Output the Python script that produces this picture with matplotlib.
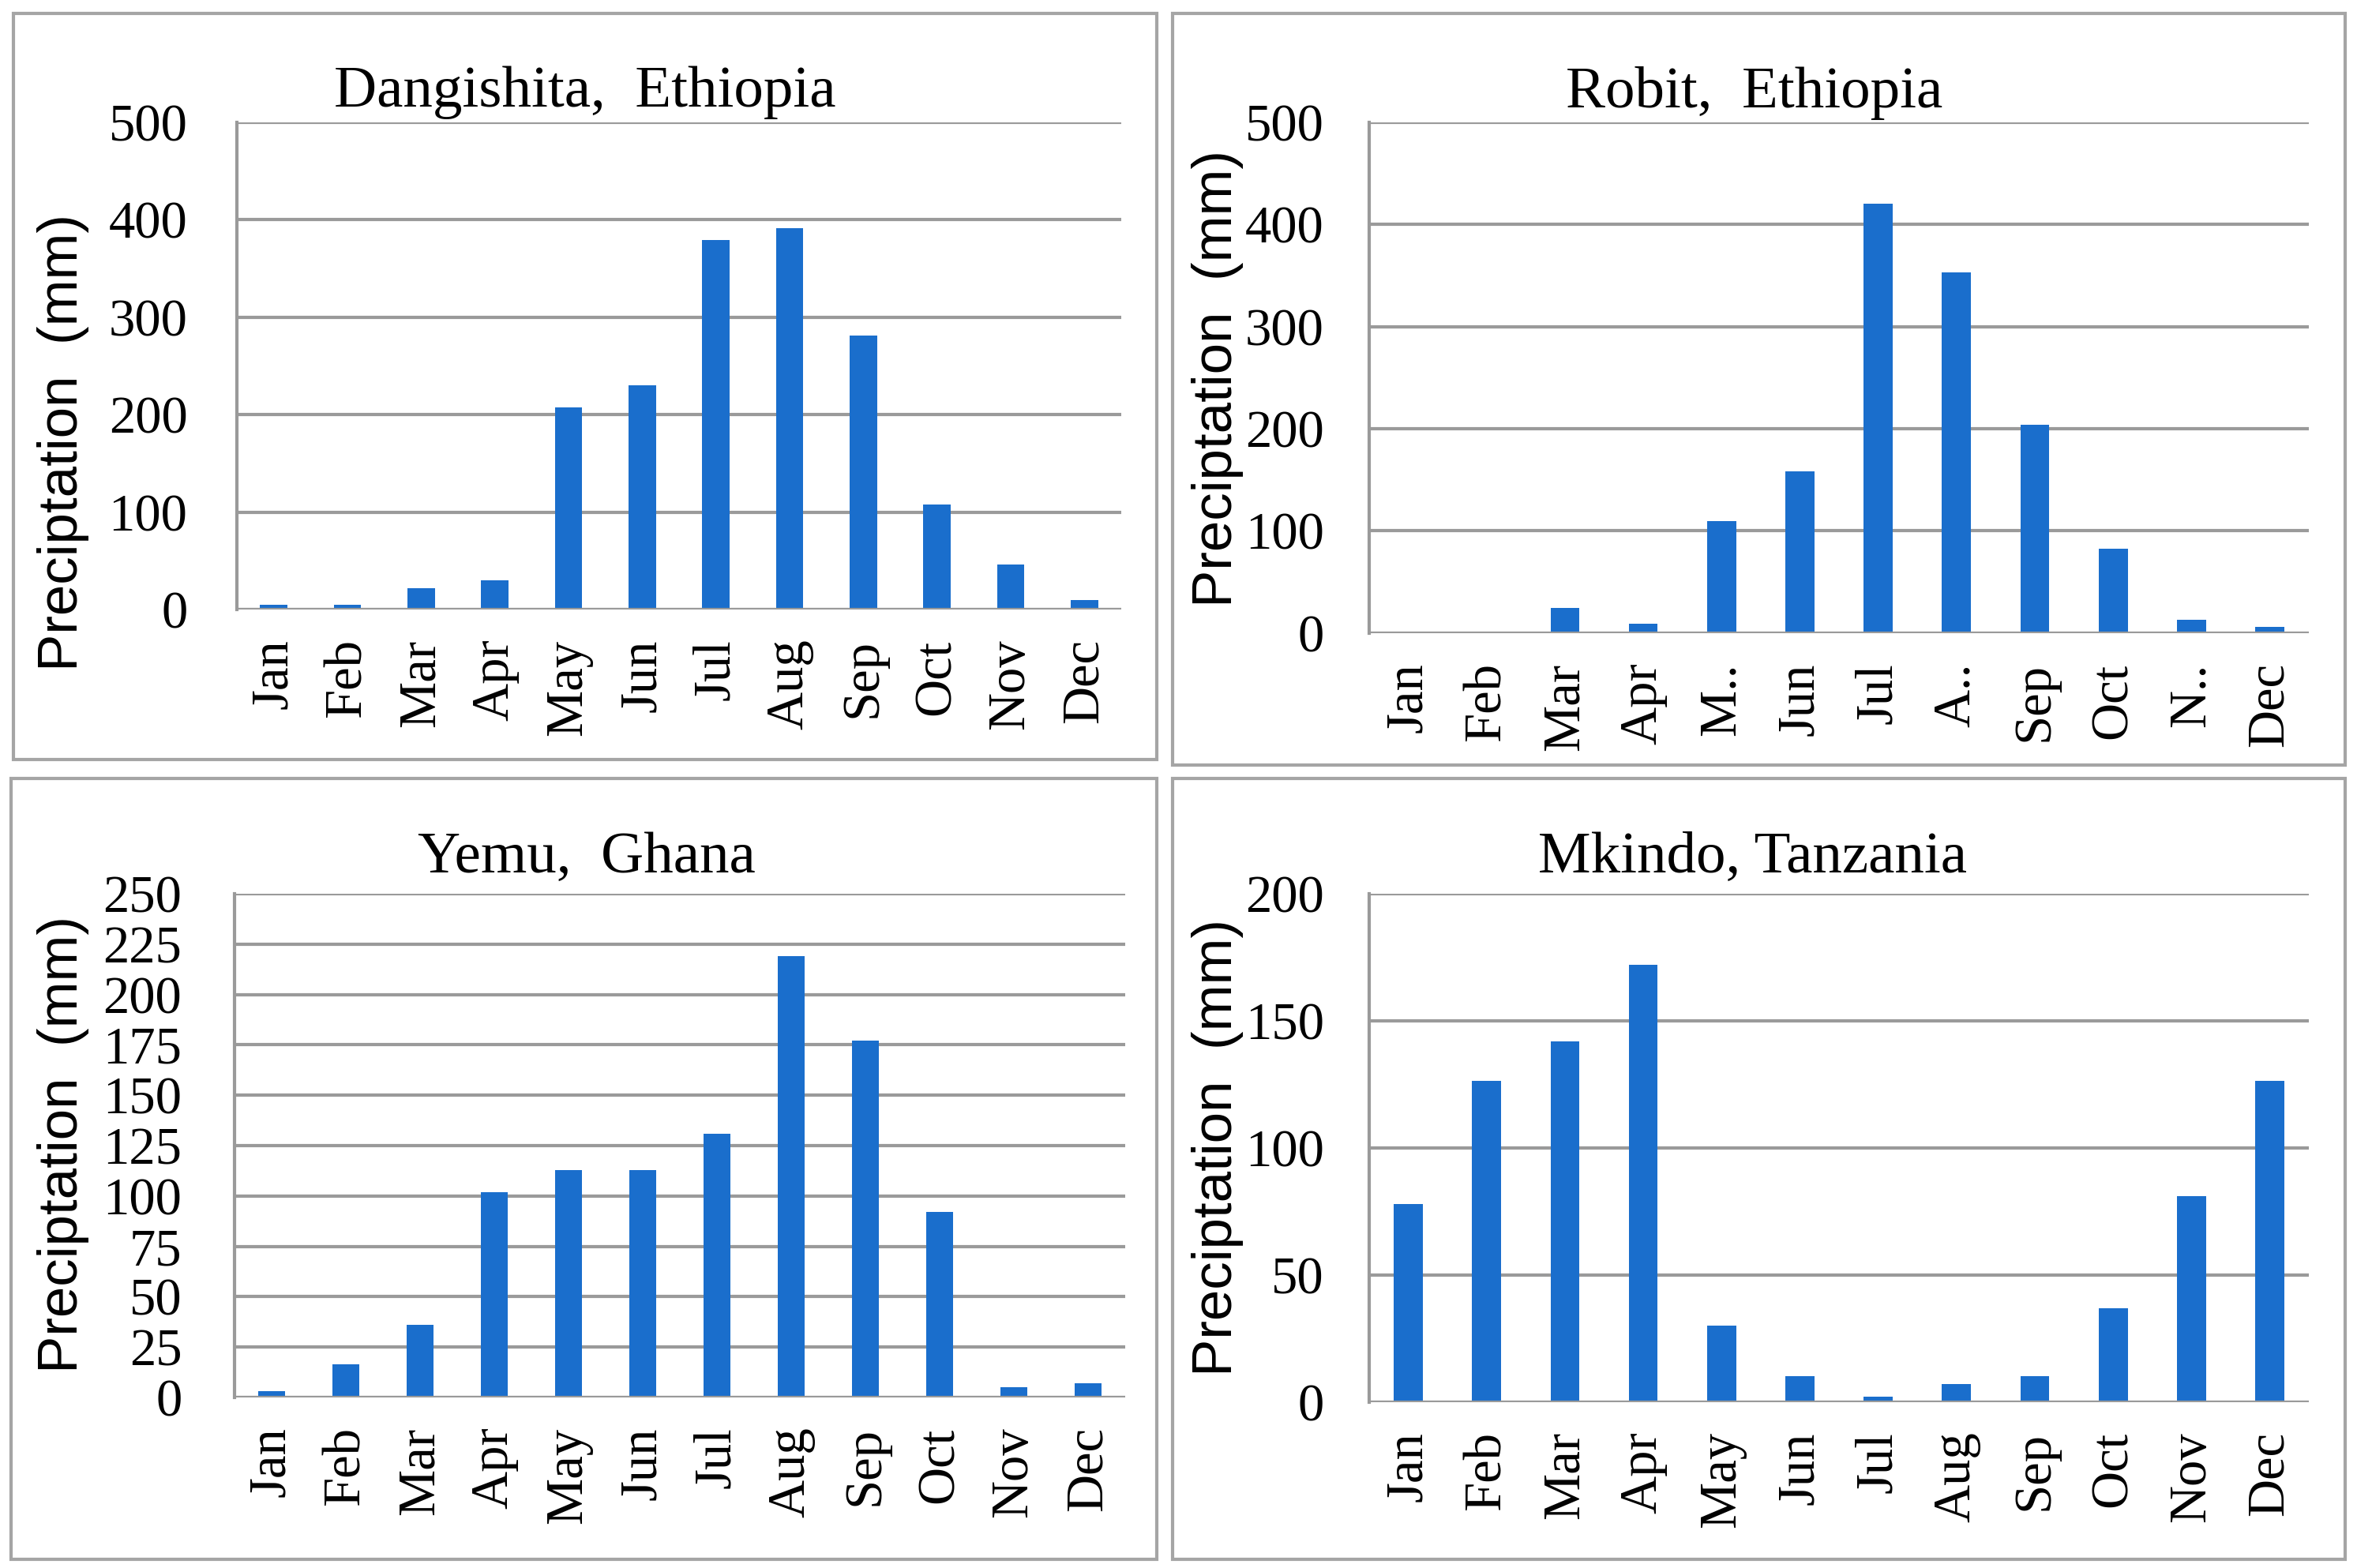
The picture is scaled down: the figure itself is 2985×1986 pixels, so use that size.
import matplotlib
matplotlib.use("Agg")
import matplotlib.pyplot as plt
from matplotlib.patches import Rectangle

months = ["Jan", "Feb", "Mar", "Apr", "May", "Jun", "Jul", "Aug", "Sep", "Oct", "Nov", "Dec"]
months_robit = ["Jan", "Feb", "Mar", "Apr", "M..", "Jun", "Jul", "A..", "Sep", "Oct", "N..", "Dec"]

dangishita = [5, 5, 22, 30, 207, 230, 379, 391, 281, 108, 46, 10]
robit = [0, 0, 25, 9, 110, 158, 420, 353, 204, 83, 13, 6]
yemu = [3, 16.5, 36, 102, 113, 113, 131, 219, 177, 92, 5, 7]
mkindo = [78, 126.5, 142, 172, 30, 10, 2, 7, 10, 37, 81, 126.5]

titles = ["Dangishita,  Ethiopia", "Robit,  Ethiopia", "Yemu,  Ghana", "Mkindo, Tanzania"]
ylabel = "Preciptation  (mm)"

yticks_d = [0, 100, 200, 300, 400, 500]
yticks_r = [0, 100, 200, 300, 400, 500]
yticks_y = [0, 25, 50, 75, 100, 125, 150, 175, 200, 225, 250]
yticks_m = [0, 50, 100, 150, 200]

BAR = "#1A6ECC"
GRID = "#9a9a9a"
SERIF = ["Liberation Serif", "DejaVu Serif"]
SANS = ["Liberation Sans", "DejaVu Sans"]

fig = plt.figure(figsize=(9.95, 6.62), dpi=300)

panels = [
    ([0.1005, 0.6113, 0.3752, 0.3108], [0.0057, 0.5156, 0.4851, 0.4758], (0.2482, 0.9408), (-0.196, 0.343),
     dangishita, yticks_d, months, 15),
    ([0.5809, 0.5962, 0.3987, 0.3259], [0.4975, 0.5120, 0.4975, 0.4794], (0.7441, 0.9408), (-0.161, 0.498),
     robit, yticks_r, months_robit, 13.7),
    ([0.0995, 0.1088, 0.3779, 0.3212], [0.0047, 0.0055, 0.4861, 0.4980], (0.2490, 0.4527), (-0.192, 0.502),
     yemu, yticks_y, months, 16),
    ([0.5809, 0.1059, 0.3987, 0.3241], [0.4975, 0.0055, 0.4975, 0.4980], (0.7437, 0.4527), (-0.161, 0.501),
     mkindo, yticks_m, months, 13.7),
]

for (rect, brect, tpos, lpos, data, yt, labs, ypad), title in zip(panels, titles):
    fig.patches.append(Rectangle((brect[0], brect[1]), brect[2], brect[3], transform=fig.transFigure,
                                 fill=False, edgecolor="#a5a5a5", linewidth=1.0, zorder=0))
    ax = fig.add_axes(rect)
    x = list(range(len(labs)))
    ax.bar(x, data, width=0.37, color=BAR, zorder=3)
    ax.set_xlim(-0.5, len(labs) - 0.5)
    ax.set_ylim(yt[0], yt[-1])
    ax.set_yticks(yt)
    ax.set_yticklabels([str(v) for v in yt], fontfamily=SERIF, fontsize=16)
    ax.set_xticks(x)
    ax.set_xticklabels(labs, rotation=90, fontfamily=SERIF, fontsize=16, ha="center", va="top")
    ax.tick_params(axis="y", length=0, pad=ypad)
    ax.tick_params(axis="x", length=0, pad=9)
    ax.yaxis.grid(True, color=GRID, linewidth=1.0, zorder=0)
    ax.set_axisbelow(True)
    for s in ["top", "right", "bottom"]:
        ax.spines[s].set_visible(False)
    ax.spines["left"].set_color(GRID)
    ax.spines["left"].set_linewidth(1.0)
    ax.axhline(0, color=GRID, linewidth=1.0, zorder=4)
    ax.set_ylabel(ylabel, fontfamily=SANS, fontsize=17, va="center", ha="center")
    ax.yaxis.set_label_coords(lpos[0], lpos[1])
    fig.text(tpos[0], tpos[1], title, ha="center", va="center", fontfamily=SERIF, fontsize=18)

fig.savefig("out.png", dpi=300, facecolor="white")
